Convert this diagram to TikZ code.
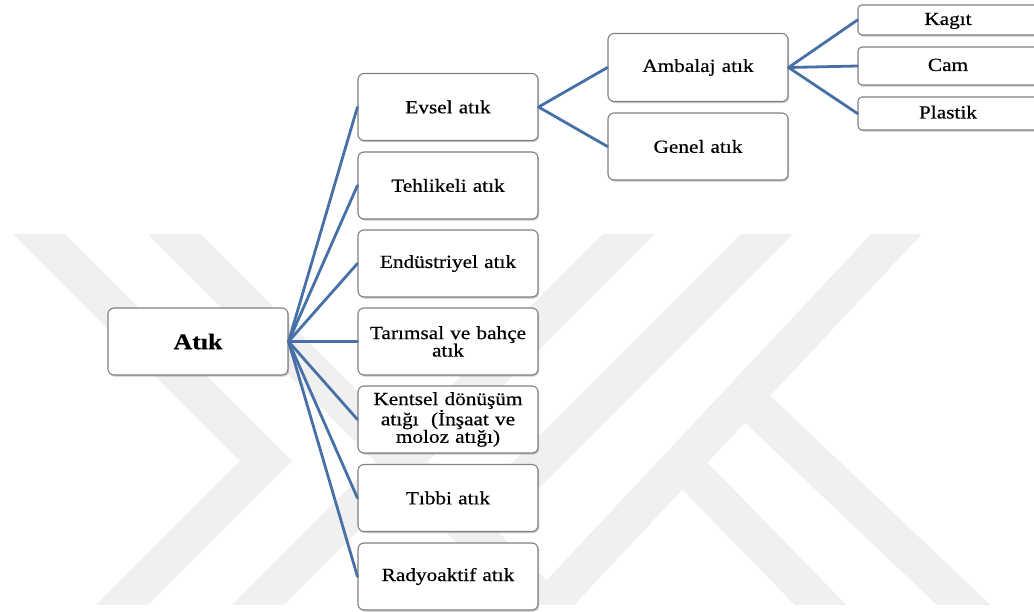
\documentclass[tikz,border=0pt]{standalone}
\usepackage{fontspec}
\setmainfont{Liberation Serif}
\newfontfamily\lbl[FakeStretch=1.15,FakeBold=0.5]{Liberation Serif}
\usetikzlibrary{shadows}
\definecolor{conn}{RGB}{70,112,166}
\definecolor{boxline}{RGB}{128,128,128}
\definecolor{wm}{RGB}{240,240,240}
\tikzset{
  box/.style={draw=boxline, line width=1.1pt, fill=white, rounded corners=6pt,
    minimum width=180pt, minimum height=67pt, inner sep=0pt, align=center,
    text width=172pt, font=\lbl\fontsize{18.5}{17.5}\selectfont,
    drop shadow={shadow xshift=1.2pt, shadow yshift=-1.6pt, opacity=0.35, fill=black!60}},
  smallbox/.style={box, rounded corners=4pt, text height=12pt, text depth=2pt},
  rootbox/.style={box, font=\lbl\bfseries\fontsize{22.5}{24}\selectfont},
  conn/.style={draw=conn, line width=2.8pt, line cap=round},
  wmstripe/.style={draw=wm, line width=37pt, line join=miter, line cap=butt}
}
\begin{document}
\begin{tikzpicture}[x=1pt,y=-1pt]
\useasboundingbox (0,0) rectangle (1034,612);
% watermark
\begin{scope}
\clip (0,235) rectangle (1034,604);
\draw[wmstripe] (10,205) -- (266,461) -- (100,627);
\draw[wmstripe] (150,210) -- (570,630);
\draw[wmstripe] (653,210) -- (233,630);
\draw[wmstripe] (791,210) -- (470,531);
\draw[wmstripe] (919,210) -- (530,625);
\draw[wmstripe] (687,468) -- (845,630);
\draw[wmstripe] (748,400) -- (990,630);
\end{scope}
% nodes
\node[rootbox] (atik) at (198,341.5) {Atık};
\node[box] (evsel) at (448,107) {Evsel atık};
\node[box] (tehlikeli) at (448,185.5) {Tehlikeli atık};
\node[box] (endustri) at (448,263.5) {Endüstriyel atık};
\node[box] (tarim) at (448,341.5) {Tarımsal ve bahçe\\atık};
\node[box] (kentsel) at (448,419.5) {Kentsel dönüşüm\\atığı\ \ (İnşaat ve\\moloz atığı)};
\node[box] (tibbi) at (448,498) {Tıbbi atık};
\node[box] (radyo) at (448,576.5) {Radyoaktif atık};
\node[box, minimum height=68pt] (ambalaj) at (698,67.5) {Ambalaj atık};
\node[box] (genel) at (698,146.5) {Genel atık};
\node[smallbox, minimum height=30pt] (kagit) at (948,20) {Kagıt};
\node[smallbox, minimum height=38pt] (cam) at (948,66) {Cam};
\node[smallbox, minimum height=33pt] (plastik) at (948,113.5) {Plastik};
% connectors
\foreach \n in {evsel,tehlikeli,endustri,tarim,kentsel,tibbi,radyo}
  \draw[conn] (atik.east) -- (\n.west);
\draw[conn] (evsel.east) -- (ambalaj.west);
\draw[conn] (evsel.east) -- (genel.west);
\draw[conn] (ambalaj.east) -- (kagit.west);
\draw[conn] (ambalaj.east) -- (cam.west);
\draw[conn] (ambalaj.east) -- (plastik.west);
\end{tikzpicture}
\end{document}
